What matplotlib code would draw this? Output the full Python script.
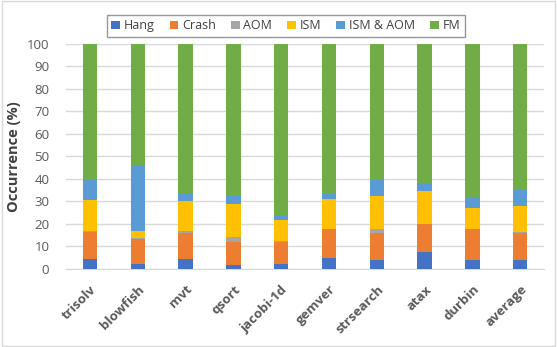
import matplotlib
matplotlib.use("Agg")
import matplotlib.pyplot as plt
import numpy as np

plt.rcParams['font.family'] = ['Open Sans', 'DejaVu Sans']

benchmarks = ["trisolv", "blowfish", "mvt", "qsort", "jacobi-1d",
              "gemver", "strsearch", "atax", "durbin", "average"]
hang = [4.6, 2.2, 4.3, 1.6, 2.1, 5.1, 3.8, 7.5, 3.8, 3.8]
crash = [11.8, 11.2, 11.5, 10.6, 10.1, 12.5, 12.4, 12.4, 13.8, 12.2]
aom = [0.4, 0.2, 0.9, 2.0, 0.2, 0.3, 1.7, 0.2, 0.2, 0.6]
ism = [13.9, 3.4, 13.3, 14.6, 9.3, 13.0, 14.3, 14.5, 9.4, 11.5]
ism_aom = [8.9, 29.1, 3.4, 3.7, 2.2, 2.2, 7.7, 3.1, 4.8, 7.3]
fm = [100 - a - b - c - d - e for a, b, c, d, e in zip(hang, crash, aom, ism, ism_aom)]

series = [("Hang", hang, "#4472C4"), ("Crash", crash, "#ED7D31"),
          ("AOM", aom, "#A5A5A5"), ("ISM", ism, "#FFC000"),
          ("ISM & AOM", ism_aom, "#5B9BD5"), ("FM", fm, "#70AD47")]

fig = plt.figure(figsize=(5.57, 3.47), dpi=100)
ax = fig.add_axes([0.1185, 0.2248, 0.8585, 0.6492])

x = np.arange(len(benchmarks))
bottom = np.zeros(len(benchmarks))
for name, vals, col in series:
    ax.bar(x, vals, 0.3, bottom=bottom, color=col, label=name, zorder=3)
    bottom += np.array(vals)

ax.set_xlim(-0.5, len(benchmarks) - 0.5)
ax.set_ylim(0, 100)
ax.set_yticks(range(0, 101, 10))
ax.grid(axis="y", color="#D9D9D9", linewidth=1, zorder=0)
for s in ["top", "right", "left"]:
    ax.spines[s].set_visible(False)
ax.spines["bottom"].set_color("#D9D9D9")
ax.tick_params(axis="y", length=0, labelsize=9.5, colors="#595959", pad=12)
ax.tick_params(axis="x", length=0, labelsize=9.5, colors="#595959", pad=10)
ax.set_xticks(x)
ax.set_xticklabels(benchmarks, rotation=45, ha="right", rotation_mode="anchor",
                   fontweight="bold")
ax.set_ylabel("Occurrence (%)", fontsize=10.5, fontweight="bold", color="#404040",
              labelpad=4)

leg = fig.legend(loc="upper center", bbox_to_anchor=(0.513, 0.975), ncol=6,
                 fontsize=9, frameon=True, fancybox=False, handlelength=0.7,
                 handleheight=0.7, handletextpad=0.3, columnspacing=1.2,
                 borderpad=0.35)
leg.get_frame().set_edgecolor("#7F7F7F")
leg.get_frame().set_linewidth(1)
for t in leg.get_texts():
    t.set_color("#404040")

fig.patches.append(plt.Rectangle((0.003, 0.003), 0.994, 0.994, transform=fig.transFigure,
                                 fill=False, edgecolor="#D9D9D9", linewidth=1))

fig.savefig("out.png", dpi=100)
